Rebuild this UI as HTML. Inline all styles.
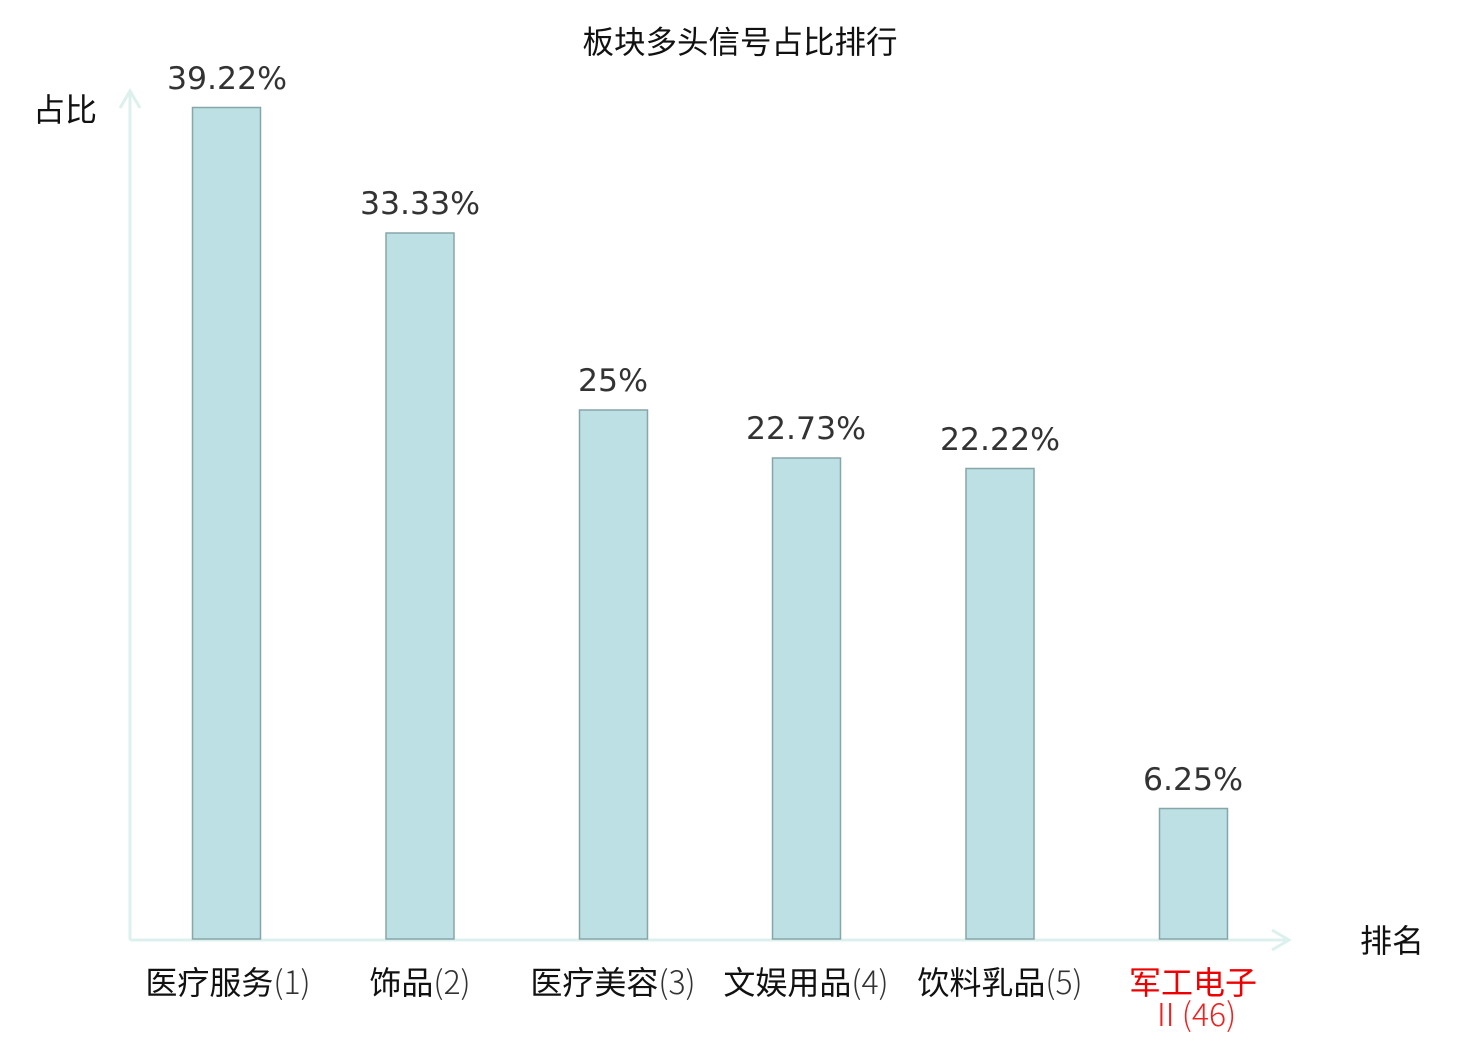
<!DOCTYPE html>
<html><head><meta charset="utf-8"><style>
html,body{margin:0;padding:0;background:#fff;}
text{font-family:"DejaVu Sans","Noto Sans CJK SC",sans-serif;}
.cjk{font-family:"Noto Sans CJK SC",sans-serif;}
</style></head><body>
<svg width="1480" height="1040" viewBox="0 0 1480 1040" xmlns="http://www.w3.org/2000/svg">
<rect width="1480" height="1040" fill="#fff"/>
<text x="740" y="53" font-size="31.5" text-anchor="middle" fill="#111">板块多头信号占比排行</text>
<g stroke="#dcf1ee" stroke-width="3" fill="none">
<line x1="130" y1="92" x2="130" y2="940"/>
<polyline points="120,108 130,91 140,108"/>
<line x1="130" y1="940" x2="1288" y2="940"/>
<polyline points="1272,930 1289,940 1272,950"/>
</g>
<text x="33" y="121" font-size="32" fill="#111">占比</text>
<text x="1360" y="952" font-size="32" fill="#111">排名</text>
<g fill="#bce0e3" stroke="#86a6a8" stroke-width="1.5">
<rect x="192.5" y="107.5" width="68" height="831.5"/>
<rect x="386" y="233" width="68" height="706"/>
<rect x="579.5" y="410" width="68" height="529"/>
<rect x="772.5" y="458" width="68" height="481"/>
<rect x="966" y="468.5" width="68" height="470.5"/>
<rect x="1159.5" y="808.5" width="68" height="130.5"/>
</g>
<g font-size="31.5" fill="#333" text-anchor="middle">
<text x="227" y="89">39.22%</text>
<text x="420" y="214">33.33%</text>
<text x="613" y="391">25%</text>
<text x="806" y="439">22.73%</text>
<text x="1000" y="450">22.22%</text>
<text x="1193" y="790">6.25%</text>
</g>
<g font-size="32" fill="#111" text-anchor="middle" class="cjk">
<text x="228" y="994" class="cjk">医疗服务<tspan fill="#333" font-weight="300">(1)</tspan></text>
<text x="420" y="994" class="cjk">饰品<tspan fill="#333" font-weight="300">(2)</tspan></text>
<text x="613" y="994" class="cjk">医疗美容<tspan fill="#333" font-weight="300">(3)</tspan></text>
<text x="806" y="994" class="cjk">文娱用品<tspan fill="#333" font-weight="300">(4)</tspan></text>
<text x="1000" y="994" class="cjk">饮料乳品<tspan fill="#333" font-weight="300">(5)</tspan></text>
<text x="1193" y="994" fill="#e00" class="cjk">军工电子</text>
<text x="1193" y="1026" fill="#e22" class="cjk" font-weight="300">Ⅱ(46)</text>
</g>
</svg>
</body></html>
